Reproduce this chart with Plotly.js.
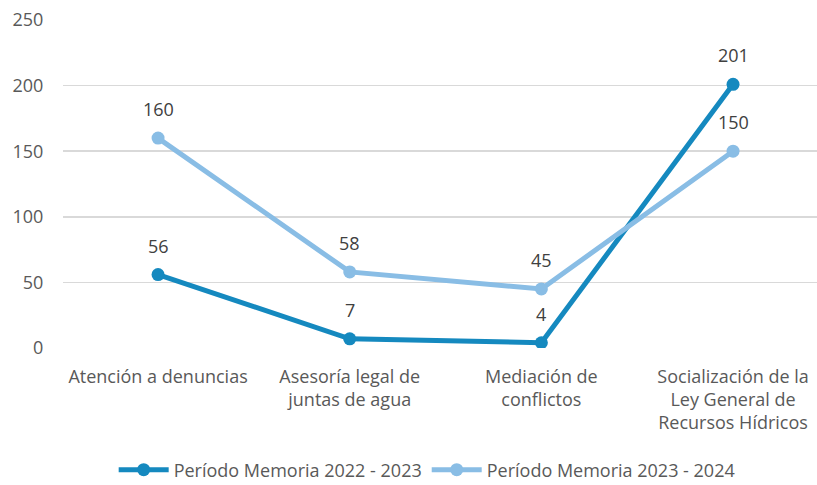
<!DOCTYPE html>
<html><head><meta charset="utf-8">
<script src="https://cdn.plot.ly/plotly-3.0.1.min.js"></script>
<style>html,body{margin:0;padding:0;background:#fff}#chart{width:817px;height:485px}</style>
</head><body><div id="chart"></div>
<script>
const categories = [
  "Atención a denuncias",
  "Asesoría legal de<br>juntas de agua",
  "Mediación de<br>conflictos",
  "Socialización de la<br>Ley General de<br>Recursos Hídricos"
];
const seriesNames = ["Período Memoria 2022 - 2023", "Período Memoria 2023 - 2024"];
const values2223 = [56, 7, 4, 201];
const values2324 = [160, 58, 45, 150];
const yTicks = [0, 50, 100, 150, 200, 250];

const colors = ["#1589BF", "#89BDE5"];
const idx = categories.map((c, i) => i);

const data = [values2223, values2324].map((vals, k) => ({
  type: "scatter", mode: "lines+markers", name: seriesNames[k],
  x: idx, y: vals,
  line: {color: colors[k], width: 5},
  marker: {color: colors[k], size: 13},
  hoverinfo: "none"
}));

const annotations = [];
[values2223, values2324].forEach(vals => {
  vals.forEach((v, i) => {
    annotations.push({x: i, y: v, xref: "x", yref: "y", text: String(v), showarrow: false,
      yshift: 29, font: {family: "Open Sans, sans-serif", size: 18, color: "#404040"}});
  });
});

const layout = {
  width: 817, height: 485,
  margin: {l: 63, r: 0, t: 20, b: 137, autoexpand: false},
  paper_bgcolor: "#fff", plot_bgcolor: "#fff",
  font: {family: "Open Sans, sans-serif", color: "#595959", size: 18},
  showlegend: true,
  legend: {orientation: "h", x: 0.483, xanchor: "center", y: -0.372, yanchor: "middle",
    font: {size: 18, color: "#595959"}, itemwidth: 50, tracegroupgap: 0},
  xaxis: {
    tickmode: "array", tickvals: idx, ticktext: categories,
    range: [-0.496, 3.438], showgrid: false, zeroline: false, showline: false,
    ticks: "outside", ticklen: 12, tickcolor: "rgba(0,0,0,0)", automargin: false,
    tickfont: {size: 18, color: "#595959"}, fixedrange: true
  },
  yaxis: {
    range: [0, 250], tickmode: "array", tickvals: yTicks, ticktext: yTicks.map(String),
    showgrid: true, gridcolor: "#d9d9d9", gridwidth: 1.5, zeroline: false, showline: false,
    ticks: "outside", ticklen: 15, tickcolor: "rgba(0,0,0,0)", automargin: false,
    tickfont: {size: 18, color: "#595959"}, fixedrange: true
  },
  annotations: annotations
};
Plotly.newPlot("chart", data, layout, {displayModeBar: false, staticPlot: true});
</script></body></html>
